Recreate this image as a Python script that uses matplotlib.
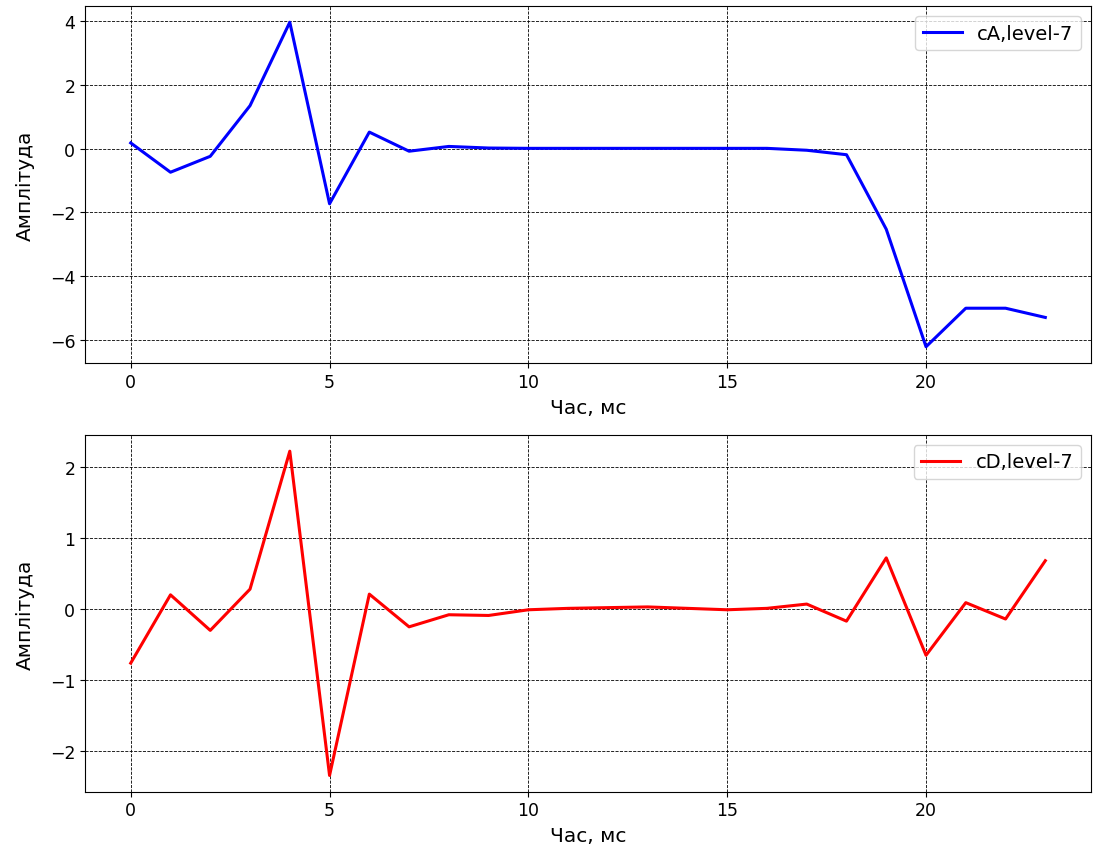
import matplotlib
matplotlib.use('Agg')
import matplotlib.pyplot as plt

# time axis (ms) and wavelet coefficients, level 7
t = list(range(24))
cA = [0.18, -0.74, -0.24, 1.35, 3.97, -1.73, 0.52, -0.08, 0.07, 0.02,
      0.01, 0.01, 0.01, 0.01, 0.01, 0.01, 0.01, -0.05, -0.19, -2.53,
      -6.22, -5.01, -5.01, -5.30]
cD = [-0.76, 0.20, -0.30, 0.28, 2.22, -2.34, 0.21, -0.25, -0.08, -0.09,
      -0.01, 0.01, 0.02, 0.03, 0.01, -0.01, 0.01, 0.07, -0.17, 0.72,
      -0.65, 0.09, -0.14, 0.68]

xlabel = 'Час, мс'
ylabel = 'Амплітуда'

plt.rcParams['font.size'] = 12.5
plt.rcParams['axes.labelsize'] = 14.5
plt.rcParams['legend.fontsize'] = 14

fig = plt.figure(figsize=(10.94, 8.54), dpi=100)

ax1 = fig.add_axes([0.0777, 0.5738, 0.9196, 0.418])
ax1.plot(t, cA, color='blue', lw=2.2, label='cA,level-7')
ax1.set_xlabel(xlabel, labelpad=5)
ax1.set_ylabel(ylabel, labelpad=11)
ax1.grid(True, color='k', linestyle='--', linewidth=0.6)
ax1.legend(loc='upper right')

ax2 = fig.add_axes([0.0777, 0.0718, 0.9196, 0.4177])
ax2.plot(t, cD, color='red', lw=2.2, label='cD,level-7')
ax2.set_xlabel(xlabel, labelpad=5)
ax2.set_ylabel(ylabel, labelpad=11)
ax2.grid(True, color='k', linestyle='--', linewidth=0.6)
ax2.legend(loc='upper right')

fig.savefig('out.png', dpi=100)
